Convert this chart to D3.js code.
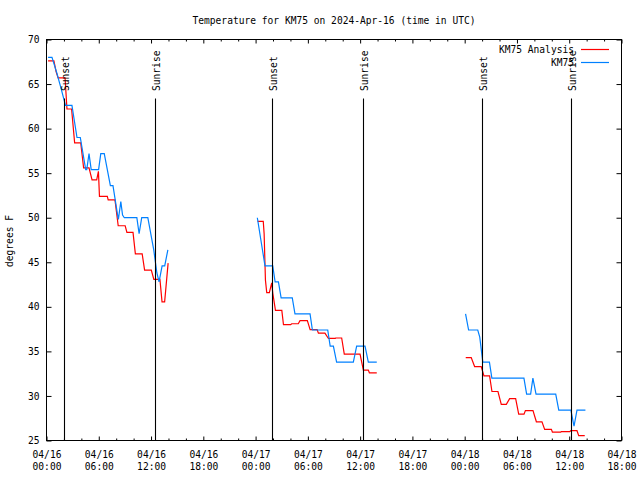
<!DOCTYPE html>
<html><head><meta charset="utf-8">
<script src="https://cdn.jsdelivr.net/npm/d3@7"></script>
<style>
body{margin:0;background:#fff}
svg{display:block}
text{font-family:"DejaVu Sans Mono","Liberation Mono",monospace;font-size:9.6px;fill:#000}
</style>
</head><body>
<svg id="chart" width="640" height="480"></svg>
<script>
// ---------------- DATA ----------------
const titleText = "Temperature for KM75 on 2024-Apr-16 (time in UTC)";
const yLabelText = "degrees F";
const baseUTC = Date.UTC(2024, 3, 16, 0, 0);   // hours below are counted from 2024-04-16 00:00 UTC
const axisHours = [0, 66];
const yDomain = [25, 70];
const yTickValues = [25, 30, 35, 40, 45, 50, 55, 60, 65, 70];
const seriesNames = ["KM75 Analysis", "KM75"];

// KM75 Analysis (red) — null separates the three daily runs
const analysisHours = [
  0.18,0.85,1.1,1.33,2.13,2.35,2.88,3.23,3.93,4.26,4.88,5.23,5.76,5.96,6.08,6.98,7.08,7.86,8.23,9.03,9.23,9.93,10.2,10.98,11.26,12.03,12.32,13.02,13.26,13.56,13.96,
  null,
  24.23,24.88,24.98,25.13,25.28,25.58,25.85,25.98,26.28,27.01,27.2,28.03,28.14,28.9,29.1,29.94,30.26,31.06,31.21,31.96,32.36,33.14,33.19,33.88,34.18,35.99,36.37,36.94,37.06,37.91,
  null,
  48.12,48.75,49.14,49.9,50.21,50.86,51.13,51.82,52.2,52.78,53.16,53.85,54.2,54.81,54.97,55.84,56.23,56.87,57.18,57.95,58.07,59.03,59.1,60.06,60.18,60.89,61.09,61.78
];
const analysisTemps = [
  67.6,67.6,66.4,65.7,65.7,62.2,62.2,58.4,58.4,55.6,55.6,54.25,54.25,55.2,52.4,52.4,52.0,52.0,49.1,49.1,48.35,48.35,45.95,45.95,44.13,44.13,43.08,43.08,40.56,40.56,44.9,
  null,
  49.6,49.6,48.2,43.0,41.6,41.6,42.7,41.5,39.6,39.6,38.0,38.0,38.1,38.1,38.45,38.45,37.45,37.45,37.05,37.05,36.45,36.45,36.5,36.5,34.7,34.7,32.9,32.9,32.6,32.6,
  null,
  34.3,34.3,33.3,33.3,32.25,32.25,30.5,30.5,29.05,29.05,29.7,29.7,27.95,27.95,28.35,28.35,27.1,27.1,26.25,26.25,25.95,25.95,26.0,26.0,26.1,26.1,25.55,25.55
];

// KM75 observations (blue)
const obsHours = [
  0.18,0.63,1.2,1.7,2.18,2.92,3.5,3.88,4.5,4.62,4.88,5.13,5.98,6.23,6.63,7.33,7.63,8.13,8.25,8.53,8.73,8.93,10.37,10.63,10.93,11.63,12.31,12.67,12.92,13.27,13.57,13.93,
  null,
  24.2,25.08,25.97,26.24,26.62,26.93,28.21,28.52,30.25,30.52,32.28,32.56,32.93,33.3,35.22,35.6,36.56,36.94,37.91,
  null,
  48.1,48.45,49.5,49.73,50.08,50.84,51.12,54.8,55.11,55.57,55.83,56.19,58.45,58.8,60.19,60.55,60.89,61.86
];
const obsTemps = [
  68.0,68.0,66.2,64.4,62.6,62.6,59.0,59.0,55.4,55.4,57.2,55.4,55.4,57.2,57.2,53.6,53.6,50.5,49.8,51.8,50.3,50.0,50.0,48.2,50.0,50.0,46.4,43.8,42.8,44.6,44.6,46.4,
  null,
  50.0,44.6,44.6,42.8,42.8,41.0,41.0,39.2,39.2,37.4,37.4,35.6,35.6,33.8,33.8,35.6,35.6,33.8,33.8,
  null,
  39.2,37.4,37.4,36.6,33.8,33.8,32.0,32.0,30.2,30.2,32.0,30.2,30.2,28.4,28.4,26.6,28.4,28.4
];

// Sunset / sunrise markers
const eventHours = [1.98, 12.41, 25.93, 36.36, 49.99, 60.19];
const eventLabels = ["Sunset", "Sunrise", "Sunset", "Sunrise", "Sunset", "Sunrise"];

// ---------------- CHART ----------------
const colors = ["#ff0000", "#0080ff"];
const L = 46.5, R = 621.5, T = 39.5, B = 440.5;
const svg = d3.select("#chart");
const toDate = h => new Date(baseUTC + h * 3600e3);

const x = d3.scaleUtc().domain(axisHours.map(toDate)).range([L, R]);
const y = d3.scaleLinear().domain(yDomain).range([B, T]);

svg.append("rect").attr("width", 640).attr("height", 480).attr("fill", "#fff");

// title
svg.append("text").attr("x", 334).attr("y", 23.5).attr("text-anchor", "middle").text(titleText);

// ticks
const majorTicks = d3.utcHour.every(6).range(toDate(axisHours[0]), toDate(axisHours[1] + 0.01));
const minorTicks = d3.utcHour.every(2).range(toDate(axisHours[0]), toDate(axisHours[1] + 0.01))
  .filter(d => d.getUTCHours() % 6 !== 0);

function styleAxis(g) {
  g.select(".domain").remove();
  g.selectAll("line").attr("stroke", "#000").attr("stroke-width", 1);
}

// bottom major with two-line labels
const fmtDate = d3.utcFormat("%m/%d"), fmtTime = d3.utcFormat("%H:%M");
const gx = svg.append("g").attr("transform", `translate(0,${B})`)
  .call(d3.axisBottom(x).tickValues(majorTicks).tickSize(-4).tickSizeOuter(0).tickFormat(""));
styleAxis(gx);
gx.selectAll(".tick text").remove();
gx.selectAll(".tick").append("text")
  .attr("text-anchor", "middle").attr("fill", "#000")
  .attr("font-family", "DejaVu Sans Mono, monospace").attr("font-size", "9.6px")
  .each(function(d) {
    const t = d3.select(this);
    t.append("tspan").attr("x", 0).attr("y", 17.5).text(fmtDate(d));
    t.append("tspan").attr("x", 0).attr("y", 29.5).text(fmtTime(d));
  });
const gxm = svg.append("g").attr("transform", `translate(0,${B})`)
  .call(d3.axisBottom(x).tickValues(minorTicks).tickSize(-2).tickSizeOuter(0).tickFormat(""));
styleAxis(gxm);

// top mirror
const gt = svg.append("g").attr("transform", `translate(0,${T})`)
  .call(d3.axisTop(x).tickValues(majorTicks).tickSize(-4).tickSizeOuter(0).tickFormat(""));
styleAxis(gt);
const gtm = svg.append("g").attr("transform", `translate(0,${T})`)
  .call(d3.axisTop(x).tickValues(minorTicks).tickSize(-2).tickSizeOuter(0).tickFormat(""));
styleAxis(gtm);

// left y
const gy = svg.append("g").attr("transform", `translate(${L},0)`)
  .call(d3.axisLeft(y).tickValues(yTickValues).tickSize(-5).tickSizeOuter(0).tickPadding(7).tickFormat(d3.format("d")));
styleAxis(gy);
gy.selectAll(".tick text").attr("font-family", "DejaVu Sans Mono, monospace").attr("font-size", "9.6px").attr("fill", "#000");
// right mirror
const gr = svg.append("g").attr("transform", `translate(${R},0)`)
  .call(d3.axisRight(y).tickValues(yTickValues).tickSize(-5).tickSizeOuter(0).tickFormat(""));
styleAxis(gr);

// y label
svg.append("text").attr("transform", "translate(13,241) rotate(-90)")
  .attr("text-anchor", "middle").text(yLabelText);

// series
function pts(hours, temps) {
  return hours.map((h, i) => ({h, v: temps[i]}));
}
const line = d3.line()
  .defined(d => d.h !== null && d.v !== null)
  .x(d => x(toDate(d.h))).y(d => y(d.v));

const series = [pts(analysisHours, analysisTemps), pts(obsHours, obsTemps)];
series.forEach((s, i) => {
  svg.append("path").datum(s).attr("fill", "none")
    .attr("stroke", colors[i]).attr("stroke-width", 1.2)
    .attr("stroke-linejoin", "miter").attr("d", line);
});

// sunset / sunrise markers
eventHours.forEach((h, i) => {
  const xe = Math.round(x(toDate(h))) + 0.5;
  svg.append("line").attr("x1", xe).attr("x2", xe)
    .attr("y1", T + 59).attr("y2", B).attr("stroke", "#000").attr("stroke-width", 1.1);
  svg.append("text").attr("transform", `translate(${xe + 4},${T + 51.5}) rotate(-90)`)
    .attr("text-anchor", "start").text(eventLabels[i]);
});

// frame
svg.append("rect").attr("x", L).attr("y", T).attr("width", R - L).attr("height", B - T)
  .attr("fill", "none").attr("stroke", "#000").attr("stroke-width", 1);

// legend
seriesNames.forEach((name, i) => {
  const ly = 49.5 + i * 13;
  svg.append("text").attr("x", 574).attr("y", ly + 3.5).attr("text-anchor", "end").text(name);
  svg.append("line").attr("x1", 581).attr("x2", 609).attr("y1", ly).attr("y2", ly)
    .attr("stroke", colors[i]).attr("stroke-width", 1.2);
});
</script>
</body></html>
